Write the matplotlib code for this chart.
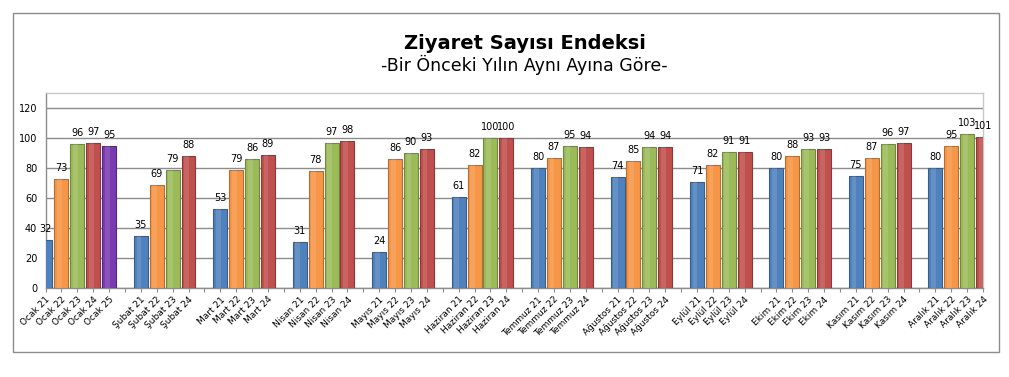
# -*- coding: utf-8 -*-
import numpy as np
import matplotlib.pyplot as plt
from matplotlib.patches import Rectangle

# months on the x axis
months = ["Ocak", "Şubat", "Mart", "Nisan", "Mayıs", "Haziran", "Temmuz",
          "Ağustos", "Eylül", "Ekim", "Kasım", "Aralık"]
# index values per year (same month of previous year = 100)
y21 = [32, 35, 53, 31, 24, 61, 80, 74, 71, 80, 75, 80]
y22 = [73, 69, 79, 78, 86, 82, 87, 85, 82, 88, 87, 95]
y23 = [96, 79, 86, 97, 90, 100, 95, 94, 91, 93, 96, 103]
y24 = [97, 88, 89, 98, 93, 100, 94, 94, 91, 93, 97, 101]
y25 = [95]  # only January so far
years = ["21", "22", "23", "24", "25"]
series = [y21, y22, y23, y24, y25]
colours = ["#4F81BD", "#F79646", "#9BBB59", "#C0504D", "#7A3BB0"]
edges = ["#385D8A", "#B66D31", "#71893F", "#8C3836", "#532680"]

# build bar list: one slot per bar, empty slot between months
xs, vals, cols, ecs = [], [], [], []
pos = 0
tick_labels = []
for i, m in enumerate(months):
    if i > 0:
        tick_labels.append("")
        pos += 1
    for j, s in enumerate(series):
        if i < len(s):
            xs.append(pos)
            vals.append(s[i])
            cols.append(colours[j])
            ecs.append(edges[j])
            tick_labels.append(m + " " + years[j])
            pos += 1

fig = plt.figure(figsize=(10.09, 3.77), dpi=100)
ax = fig.add_axes([0.0451, 0.236, 0.9291, 0.5173])

ax.bar(xs, vals, width=0.88, color=cols, edgecolor=ecs,
       linewidth=0.8, zorder=3)
# light highlight strip to mimic the bevel
ax.bar(np.array(xs) - 0.12, vals, width=0.3, color="white", alpha=0.12,
       linewidth=0, zorder=4)

for x, v in zip(xs, vals):
    ax.annotate(str(v), (x, v), xytext=(0, 4), textcoords="offset points",
                ha="center", va="bottom", fontsize=7, annotation_clip=False)

ax.set_xlim(0, pos - 1)
ax.set_ylim(0, 130)
ax.set_yticks(np.arange(0, 121, 20))
ax.yaxis.grid(True, color="#8C8C8C", linewidth=1, zorder=0)
ax.set_xticks(np.arange(pos))
ax.set_xticklabels(tick_labels, rotation=45, ha="right",
                   rotation_mode="anchor", fontsize=6.5)
ax.tick_params(axis="x", length=3, color="#8C8C8C", pad=2)
ax.tick_params(axis="y", length=0, labelsize=7, pad=6)

for side in ["top", "right"]:
    ax.spines[side].set_color("#C8C8C8")
for side in ["left", "bottom"]:
    ax.spines[side].set_color("#8C8C8C")
for sp in ax.spines.values():
    sp.set_linewidth(1)

# outer chart frame
fig.patches.append(Rectangle((0.0129, 0.0663), 0.977, 0.899,
                             transform=fig.transFigure, fill=False,
                             edgecolor="#8C8C8C", linewidth=1))

fig.text(0.52, 0.870, "Ziyaret Sayısı Endeksi", ha="center",
         va="baseline", fontsize=14, fontweight="bold")
fig.text(0.52, 0.812, "-Bir Önceki Yılın Aynı Ayına Göre-", ha="center",
         va="baseline", fontsize=12.5)

plt.savefig("out.png", dpi=100)
